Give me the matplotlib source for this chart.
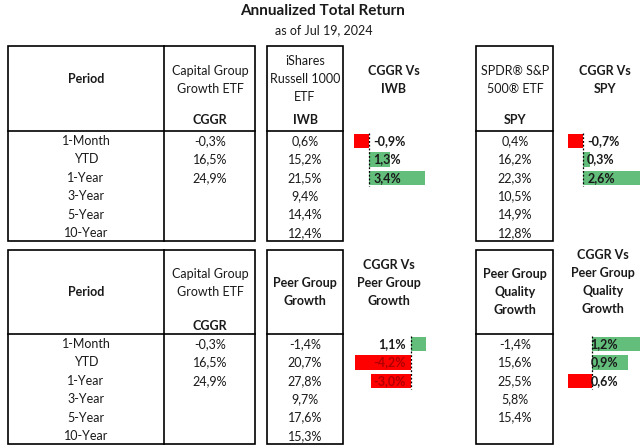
import matplotlib
matplotlib.use('Agg')
import matplotlib.pyplot as plt
from matplotlib.patches import Rectangle

plt.rcParams['font.family'] = ['Lato', 'DejaVu Sans']

periods = ['1-Month', 'YTD', '1-Year', '3-Year', '5-Year', '10-Year']
cggr = [-0.3, 16.5, 24.9]
iwb = [0.6, 15.2, 21.5, 9.4, 14.4, 12.4]
spy = [0.4, 16.2, 22.3, 10.5, 14.9, 12.8]
cggr_vs_iwb = [-0.9, 1.3, 3.4]
cggr_vs_spy = [-0.7, 0.3, 2.6]
peer_growth = [-1.4, 20.7, 27.8, 9.7, 17.6, 15.3]
peer_quality = [-1.4, 15.6, 25.5, 5.8, 15.4]
cggr_vs_peer_growth = [1.1, -4.2, -3.0]
cggr_vs_peer_quality = [1.2, 0.9, -0.6]
peer_quality_labels = ['1,2%', '0,9%', '0,6%']  # minus sign hidden in the original

W, H = 640, 448
RED = '#FF0000'
GREEN = '#63BE7B'
TXT = '#1a1a1a'
FS = 9


def fmt(v):
    return f"{v:.1f}%".replace('.', ',')


def px_axes(fig, x0, x1, y0, y1):
    return fig.add_axes([x0 / W, 1 - y1 / H, (x1 - x0) / W, (y1 - y0) / H])


def draw_box(ax, x0, x1, y0, y1, ysep, xdiv=None):
    ax.add_patch(Rectangle((x0, y0), x1 - x0, y1 - y0, fill=False, lw=1.2, ec='black'))
    ax.plot([x0, x1], [ysep, ysep], color='black', lw=1.2)
    if xdiv is not None:
        ax.plot([xdiv, xdiv], [y0, y1], color='black', lw=1.2)


def column(ax, x, values, y0, step, **kw):
    for i, v in enumerate(values):
        ax.text(x, y0 + i * step, fmt(v), ha='center', va='center', fontsize=FS, color=TXT, **kw)


def header(ax, x, lines, y_first, step=18, bold=False):
    for i, line in enumerate(lines):
        ax.text(x, y_first + i * step, line, ha='center', va='center', fontsize=FS,
                color=TXT, fontweight='bold' if bold else 'normal')


def bar_column(fig, values, labels, row0, step, x0, x1, zero, scale, side='right', neg_color=None, clip=False):
    yt = row0 - step / 2
    yb = row0 + step * (len(values) - 0.5)
    ax = px_axes(fig, x0, x1, yt, yb)
    ax.set_xlim((x0 - zero) / scale, (x1 - zero) / scale)
    ax.set_ylim(len(values) - 0.5, -0.5)
    ax.axis('off')
    rows = list(range(len(values)))
    colors = [GREEN if v >= 0 else RED for v in values]
    ax.barh(rows, values, height=0.78, color=colors)
    ax.plot([0, 0], [-0.45, len(values) - 0.55], color='black', lw=0.9, ls=(0, (1.5, 1.5)))
    for i, (v, lbl) in enumerate(zip(values, labels)):
        c = neg_color if (neg_color and v < 0) else TXT
        if side == 'right':
            t = ax.annotate(lbl, (0, i), xytext=(3 if not clip else -1, 0), textcoords='offset points',
                            ha='left', va='center', fontsize=FS, fontweight='bold', color=c)
        else:
            t = ax.annotate(lbl, (0, i), xytext=(-4, 0), textcoords='offset points',
                            ha='right', va='center', fontsize=FS, fontweight='bold', color=c)
    return ax


def main():
    fig = plt.figure(figsize=(6.4, 4.48), dpi=100)
    ax = fig.add_axes([0, 0, 1, 1])
    ax.set_xlim(0, W)
    ax.set_ylim(H, 0)
    ax.axis('off')

    # Titles
    ax.text(323, 11, 'Annualized Total Return', ha='center', va='center', fontsize=11,
            fontweight='bold', color=TXT)
    ax.text(324, 30, 'as of Jul 19, 2024', ha='center', va='center', fontsize=FS, color=TXT)

    step = 18.4

    # ---- Top table ----
    top0, top1, topsep = 46, 241, 131
    draw_box(ax, 8, 255, top0, top1, topsep, xdiv=164)
    draw_box(ax, 267, 343, top0, top1, topsep)
    draw_box(ax, 476, 553, top0, top1, topsep)

    header(ax, 86, ['Period'], 79, bold=True)
    header(ax, 210, ['Capital Group', 'Growth ETF'], 71)
    header(ax, 210, ['CGGR'], 120, bold=True)
    header(ax, 305, ['iShares', 'Russell 1000', 'ETF'], 61)
    header(ax, 305, ['IWB'], 120, bold=True)
    header(ax, 394, ['CGGR Vs', 'IWB'], 71, bold=True)
    header(ax, 515, ['SPDR® S&P', '500® ETF'], 71)
    header(ax, 515, ['SPY'], 120, bold=True)
    header(ax, 605, ['CGGR Vs', 'SPY'], 71, bold=True)

    r0 = 141
    for i, p in enumerate(periods):
        ax.text(86, r0 + i * step, p, ha='center', va='center', fontsize=FS, color=TXT)
    column(ax, 210, cggr, r0, step)
    column(ax, 305, iwb, r0, step)
    column(ax, 515, spy, r0, step)

    bar_column(fig, cggr_vs_iwb, [fmt(v) for v in cggr_vs_iwb], r0, step, 345, 440, 369, 16.5)
    bar_column(fig, cggr_vs_spy, [fmt(v) for v in cggr_vs_spy], r0, step, 560, 640, 583, 22)

    # ---- Bottom table ----
    bot0, bot1, botsep = 250, 444, 334
    draw_box(ax, 8, 255, bot0, bot1, botsep, xdiv=164)
    draw_box(ax, 267, 343, bot0, bot1, botsep)
    draw_box(ax, 476, 553, bot0, bot1, botsep)

    header(ax, 86, ['Period'], 292, bold=True)
    header(ax, 210, ['Capital Group', 'Growth ETF'], 274)
    header(ax, 210, ['CGGR'], 326, bold=True)
    header(ax, 305, ['Peer Group', 'Growth'], 283, bold=True)
    header(ax, 389, ['CGGR Vs', 'Peer Group', 'Growth'], 265, bold=True)
    header(ax, 515, ['Peer Group', 'Quality', 'Growth'], 274, bold=True)
    header(ax, 603, ['CGGR Vs', 'Peer Group', 'Quality', 'Growth'], 255, bold=True)

    r1 = 344
    for i, p in enumerate(periods):
        ax.text(86, r1 + i * step, p, ha='center', va='center', fontsize=FS, color=TXT)
    column(ax, 210, cggr, r1, step)
    column(ax, 305, peer_growth, r1, step)
    column(ax, 515, peer_quality, r1, step)

    bar_column(fig, cggr_vs_peer_growth, [fmt(v) for v in cggr_vs_peer_growth], r1, step,
               340, 440, 411, 13.3, side='left', neg_color='#B00000')
    bar_column(fig, cggr_vs_peer_quality, peer_quality_labels, r1, step,
               560, 640, 592, 40, clip=True)

    fig.savefig('out.png', dpi=100)


if __name__ == "__main__":
    main()
